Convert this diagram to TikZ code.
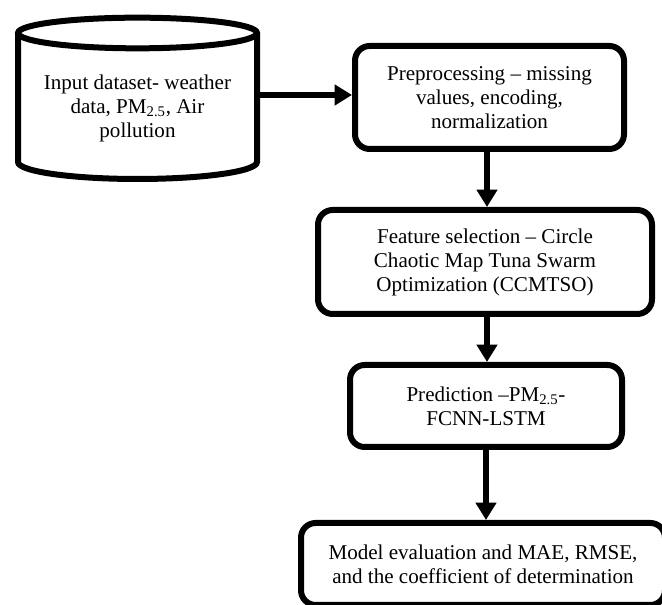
\documentclass[tikz,border=0pt]{standalone}
\usepackage{fontspec}
\setmainfont{Liberation Serif}
\usetikzlibrary{arrows.meta}
\tikzset{
  thick line/.style={line width=4.5pt},
  procbox/.style={draw, thick line, rounded corners=11pt, fill=white, align=center, inner sep=0pt,
    font=\fontsize{15.8pt}{18pt}\selectfont},
  flowarrow/.style={thick line, -{Triangle[length=13pt, width=15pt]}},
  txt/.style={align=center, font=\fontsize{15.8pt}{18pt}\selectfont}
}
\begin{document}
\begin{tikzpicture}[x=0.75pt, y=-0.75pt]
\useasboundingbox (0,0) rectangle (662,605);
% cylinder
\draw[thick line, fill=white] (18,33) -- (18,162)
  arc[start angle=180, end angle=360, x radius=89.625pt, y radius=12.75pt] -- (257,33);
\draw[thick line] (137.5,33) ellipse [x radius=89.625pt, y radius=11.5pt];
\node[txt] (input) at (137.5,108) {Input dataset- weather\\data, PM\textsubscript{2.5}, Air\\pollution};
\coordinate (cylR) at (259,95);
% boxes
\node[procbox, minimum width=201.75pt, minimum height=77.25pt] (pre) at (489.5,97.5)
  {Preprocessing – missing\\values, encoding,\\normalization};
\node[procbox, minimum width=250.5pt, minimum height=78pt] (feat) at (485,262)
  {Feature selection – Circle\\Chaotic Map Tuna Swarm\\Optimization (CCMTSO)};
\node[procbox, minimum width=204pt, minimum height=61.5pt] (pred) at (486,406)
  {Prediction –PM\textsubscript{2.5}-\\FCNN-LSTM};
\node[procbox, minimum width=273pt, minimum height=61.5pt] (eval) at (483,564)
  {Model evaluation and MAE, RMSE,\\and the coefficient of determination};
% arrows
\draw[flowarrow] (cylR) -- (cylR -| pre.west);
\draw[flowarrow] (pre.south -| 487,0) -- (feat.north -| 487,0);
\draw[flowarrow] (feat.south -| 487,0) -- (pred.north -| 487,0);
\draw[flowarrow] (pred.south -| 486,0) -- (eval.north -| 486,0);
\end{tikzpicture}
\end{document}
